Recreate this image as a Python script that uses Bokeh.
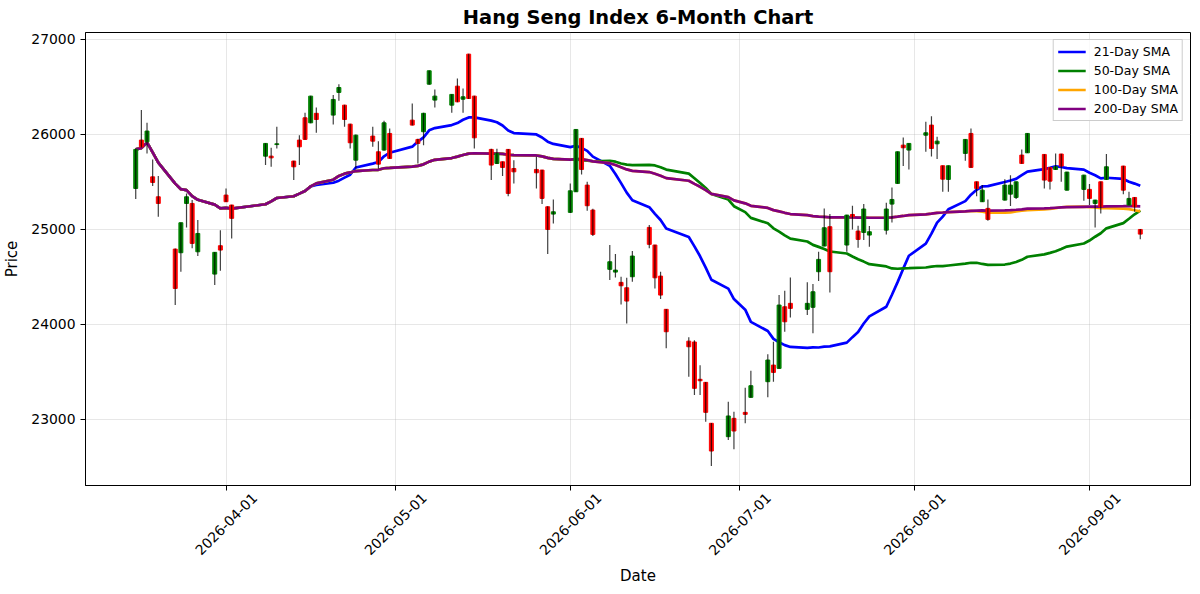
import math
import pandas as pd
from bokeh.plotting import figure
from bokeh.models import (Range1d, FixedTicker, NumeralTickFormatter,
                          ColumnDataSource, DatetimeAxis)
from bokeh.embed import file_html
from bokeh.resources import INLINE

title_text = "Hang Seng Index 6-Month Chart"

dates = [
    "2026-03-16", "2026-03-17", "2026-03-18", "2026-03-19", "2026-03-20",
    "2026-03-23", "2026-03-24", "2026-03-25", "2026-03-26", "2026-03-27",
    "2026-03-30", "2026-03-31", "2026-04-01", "2026-04-02",
    "2026-04-08", "2026-04-09", "2026-04-10",
    "2026-04-13", "2026-04-14", "2026-04-15", "2026-04-16", "2026-04-17",
    "2026-04-20", "2026-04-21", "2026-04-22", "2026-04-23", "2026-04-24",
    "2026-04-27", "2026-04-28", "2026-04-29", "2026-04-30",
    "2026-05-04", "2026-05-05", "2026-05-06", "2026-05-07", "2026-05-08",
    "2026-05-11", "2026-05-12", "2026-05-13", "2026-05-14", "2026-05-15",
    "2026-05-18", "2026-05-19", "2026-05-20", "2026-05-21", "2026-05-22",
    "2026-05-26", "2026-05-27", "2026-05-28", "2026-05-29",
    "2026-06-01", "2026-06-02", "2026-06-03", "2026-06-04", "2026-06-05",
    "2026-06-08", "2026-06-09", "2026-06-10", "2026-06-11", "2026-06-12",
    "2026-06-15", "2026-06-16", "2026-06-17", "2026-06-18",
    "2026-06-22", "2026-06-23", "2026-06-24", "2026-06-25", "2026-06-26",
    "2026-06-29", "2026-06-30",
    "2026-07-02", "2026-07-03",
    "2026-07-06", "2026-07-07", "2026-07-08", "2026-07-09", "2026-07-10",
    "2026-07-13", "2026-07-14", "2026-07-15", "2026-07-16", "2026-07-17",
    "2026-07-20", "2026-07-21", "2026-07-22", "2026-07-23", "2026-07-24",
    "2026-07-27", "2026-07-28", "2026-07-29", "2026-07-30", "2026-07-31",
    "2026-08-03", "2026-08-04", "2026-08-05", "2026-08-06", "2026-08-07",
    "2026-08-10", "2026-08-11", "2026-08-12", "2026-08-13", "2026-08-14",
    "2026-08-17", "2026-08-18", "2026-08-19", "2026-08-20", "2026-08-21",
    "2026-08-24", "2026-08-25", "2026-08-26", "2026-08-27", "2026-08-28",
    "2026-08-31", "2026-09-01", "2026-09-02", "2026-09-03", "2026-09-04",
    "2026-09-07", "2026-09-08", "2026-09-09", "2026-09-10",
]

opens = [
    25428, 25937, 25919, 25550, 25340,
    24789, 24751, 25270, 25270, 24761,
    24526, 24825, 25358, 25253,
    25768, 25768, 25890,
    25716, 25937, 26172, 26119, 26219,
    26200, 26439, 26305, 26105, 25726,
    25979, 25814, 25832, 26007,
    26147, 25944, 26025, 26526, 26358,
    26305, 26505, 26368, 26842, 26400,
    25839, 25691, 25709, 25839, 25638,
    25628, 25621, 25235, 25158,
    25176, 25393, 25955, 25463, 25200,
    24576, 24547, 24439, 24382, 24498,
    25018, 24832, 24505, 24155,
    23820, 23811, 23418, 23386, 22955,
    22814, 23007,
    23070, 23228,
    23393, 23568, 23533, 24182, 24218,
    24155, 24176, 24551, 24821, 25025,
    24832, 25154, 24979, 24965, 24937,
    24989, 25263, 25481, 25884, 25832,
    25989, 26095, 25898, 25667, 25523,
    25797, 26007, 25498, 25288, 25218,
    25305, 25368, 25333, 25779, 25803,
    25786, 25649, 25628, 25790, 25410,
    25418, 25418, 25270, 25498, 25523,
    25663, 25253, 25333, 24996,
]

highs = [
    25845, 26253, 26119, 25733, 25558,
    24795, 25070, 25375, 25305, 25095,
    24760, 24989, 25428, 25255,
    25905, 25856, 26077,
    25720, 25989, 26224, 26405, 26281,
    26411, 26526, 26310, 26110, 25995,
    26077, 25926, 26140, 26060,
    26323, 25950, 26225, 26670, 26470,
    26420, 26586, 26481, 26845, 26405,
    25845, 25845, 25712, 25842, 25726,
    25761, 25625, 25240, 25312,
    25481, 26052, 25958, 25498, 25215,
    24832, 24737, 24498, 24487, 24768,
    25042, 24835, 24551, 24158,
    23860, 23830, 23565, 23390, 22958,
    23182, 23077,
    23330, 23509,
    23681, 23814, 24305, 24351, 24491,
    24439, 24421, 24761, 25218, 25158,
    25150, 25246, 25035, 25263, 25032,
    25277, 25439, 25817, 25965, 25905,
    26130, 26189, 25972, 25670, 25670,
    25947, 26060, 25500, 25463, 25312,
    25526, 25568, 25500, 25839, 26010,
    25789, 25652, 25797, 25793, 25605,
    25571, 25474, 25308, 25500, 25790,
    25666, 25393, 25336, 25000,
]

lows = [
    25316, 25860, 25797, 25453, 25129,
    24200, 24551, 25018, 24797, 24716,
    24410, 24561, 25285, 24902,
    25674, 25656, 25849,
    25516, 25674, 25940, 26115, 26014,
    26102, 26351, 26077, 25849, 25638,
    25866, 25638, 25825, 25740,
    26090, 25691, 25884, 26520, 26281,
    26224, 26335, 26224, 26370, 25849,
    25516, 25686, 25558, 25347, 25481,
    25428, 25263, 24737, 25060,
    25170, 25390, 25576, 25193, 24926,
    24463, 24491, 24207, 24007, 24445,
    24797, 24375, 24263, 23744,
    23445, 23253, 23253, 22972, 22505,
    22779, 22681,
    22955, 23225,
    23228, 23393, 23530, 23919, 24070,
    24095, 23902, 24453, 24818, 24333,
    24761, 24996, 24803, 24884, 24814,
    24944, 25070, 25478, 25663, 25628,
    25814, 25765, 25737, 25393, 25393,
    25719, 25645, 25347, 25285, 25088,
    25300, 25242, 25316, 25688, 25800,
    25428, 25418, 25625, 25498, 25405,
    25298, 25253, 25018, 25165, 25520,
    25368, 25250, 25182, 24894,
]

closes = [
    25839, 25866, 26032, 25491, 25270,
    24375, 25067, 25340, 24849, 24954,
    24755, 24779, 25288, 25113,
    25902, 25750, 25898,
    25656, 25866, 25944, 26400, 26154,
    26365, 26491, 26154, 25909, 25989,
    25926, 25684, 26119, 25744,
    26095, 25902, 26219, 26667, 26400,
    26418, 26340, 26393, 26375, 25961,
    25674, 25797, 25649, 25376, 25603,
    25593, 25323, 24996, 25182,
    25403, 26049, 25628, 25246, 24944,
    24656, 24568, 24403, 24242, 24716,
    24839, 24487, 24305, 23919,
    23761, 23323, 23403, 23070, 22663,
    23032, 22874,
    23049, 23351,
    23621, 23491, 24200, 24024, 24165,
    24218, 24340, 24681, 25014, 24551,
    25147, 25130, 24891, 25211, 24972,
    25211, 25312, 25814, 25856, 25902,
    26014, 25849, 25926, 25526, 25667,
    25944, 25649, 25428, 25410, 25102,
    25463, 25463, 25498, 25691, 26007,
    25516, 25505, 25656, 25663, 25600,
    25568, 25323, 25305, 25235, 25656,
    25410, 25323, 25235, 24947,
]

sma_windows = [21, 50, 100, 200]
sma_labels = ["21-Day SMA", "50-Day SMA", "100-Day SMA", "200-Day SMA"]
sma_colors = ["blue", "green", "orange", "purple"]

x_tick_labels = ["2026-04-01", "2026-05-01", "2026-06-01", "2026-07-01", "2026-08-01", "2026-09-01"]
y_ticks = [23000, 24000, 25000, 26000, 27000]

df = pd.DataFrame({
    "date": pd.to_datetime(dates),
    "open": opens, "high": highs, "low": lows, "close": closes,
})
for w in sma_windows:
    df[f"sma{w}"] = df["close"].rolling(w, min_periods=1).mean()

df["top"] = df[["open", "close"]].max(axis=1)
df["bottom"] = df[["open", "close"]].min(axis=1)
df["color"] = ["green" if c >= o else "red" for o, c in zip(df["open"], df["close"])]
src = ColumnDataSource(df)

day_ms = 24 * 60 * 60 * 1000
span = df["date"].iloc[-1] - df["date"].iloc[0]
x_start = df["date"].iloc[0] - span * 0.05
x_end = df["date"].iloc[-1] + span * 0.05

# month-start ticks (tick marks + grid); labels are centred under them
tick_ms = [pd.Timestamp(t).value // 10**6 for t in x_tick_labels]
label_shift = 5.1 * day_ms
label_ticks = [t + label_shift for t in tick_ms]

xaxis = DatetimeAxis(
    ticker=FixedTicker(ticks=label_ticks, minor_ticks=tick_ms),
    major_label_overrides={t: s for t, s in zip(label_ticks, x_tick_labels)},
    axis_line_color="black",
    major_tick_line_color=None, major_tick_out=5, major_tick_in=0,
    minor_tick_line_color="black", minor_tick_out=5, minor_tick_in=0,
    major_label_standoff=5,
    major_label_orientation=math.pi / 4,
    major_label_text_font="DejaVu Sans", major_label_text_font_size="13.9px",
    major_label_text_color="black",
    axis_label="Date", axis_label_text_font="DejaVu Sans", axis_label_text_font_size="15px",
    axis_label_text_font_style="normal", axis_label_text_color="black",
    axis_label_standoff=4,
)

p = figure(
    frame_width=1105, frame_height=453,
    x_axis_location=None,
    output_backend="svg", toolbar_location=None,
    title=title_text,
    x_range=Range1d(x_start, x_end),
    y_range=Range1d(22300, 27070),
)
p.add_layout(xaxis, "below")
p.xgrid.ticker = FixedTicker(ticks=tick_ms)

p.title.text_font = "DejaVu Sans"
p.title.text_font_size = "19.4px"
p.title.text_font_style = "bold"
p.title.align = "center"
p.title.text_color = "black"
p.title.standoff = 7

# SMA lines
for w, lab, col in zip(sma_windows, sma_labels, sma_colors):
    p.line("date", f"sma{w}", source=src, line_color=col, line_width=2.7, legend_label=lab)

# candles
p.vbar(x="date", width=0.7 * day_ms, top="top", bottom="bottom", source=src,
       fill_color="color", line_color="color", fill_alpha=1.0, line_alpha=1.0)
p.segment(x0="date", y0="high", x1="date", y1="low", source=src,
          line_color="black", line_width=1.2, line_alpha=0.75)

p.yaxis.ticker = FixedTicker(ticks=y_ticks)
p.yaxis.formatter = NumeralTickFormatter(format="0")
ya = p.yaxis[0]
ya.major_label_text_font = "DejaVu Sans"
ya.major_label_text_font_size = "13.9px"
ya.major_label_text_color = "black"
ya.axis_label = "Price"
ya.axis_label_text_font = "DejaVu Sans"
ya.axis_label_text_font_size = "15px"
ya.axis_label_text_font_style = "normal"
ya.axis_label_text_color = "black"
ya.axis_label_standoff = 7
ya.axis_line_color = "black"
ya.major_tick_line_color = "black"
ya.major_tick_out = 5
ya.major_tick_in = 0
ya.minor_tick_line_color = None
ya.major_label_standoff = 5

p.grid.grid_line_color = "#b0b0b0"
p.grid.grid_line_alpha = 0.3
p.outline_line_color = "black"
p.outline_line_alpha = 1.0
p.outline_line_width = 1
p.background_fill_color = "white"
p.border_fill_color = "white"

lg = p.legend[0]
lg.location = "top_right"
lg.margin = 7
lg.padding = 4
lg.spacing = 4
lg.label_text_font = "DejaVu Sans"
lg.label_text_font_size = "12.5px"
lg.label_text_color = "black"
lg.label_height = 15
lg.glyph_height = 15
lg.glyph_width = 28
lg.label_standoff = 8
lg.border_line_color = "#cccccc"
lg.border_line_alpha = 1
lg.background_fill_alpha = 0.8

open("out.html", "w").write(file_html(p, INLINE))
